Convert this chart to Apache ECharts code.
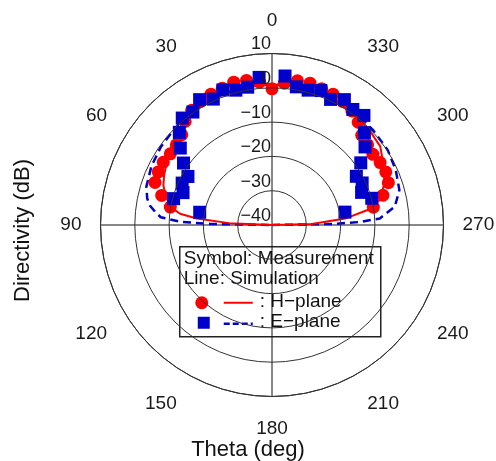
<!DOCTYPE html>
<html>
<head>
<meta charset="utf-8">
<script src="https://cdn.jsdelivr.net/npm/echarts@6/dist/echarts.min.js"></script>
<style>
html,body{margin:0;padding:0;background:#fff;}
#chart{width:496px;height:461px;}
</style>
</head>
<body>
<div id="chart"></div>
<script>
// ---- data (theta in degrees, directivity in dB) ----
const hMeasTheta = [280,285,290,295,300,305,310,315,320,325,330,335,340,345,350,355,0,5,10,15,20,25,30,35,40,45,50,55,60,65,70,75,80];
const hMeasDb    = [-10.0,-6.5,-3.9,-3.4,-3.6,-4.1,-3.6,-3.0,-0.9,0.6,1.5,2.1,2.3,2.8,2.7,1.5,-0.3,1.8,2.8,3.1,2.4,2.1,1.6,0.8,-0.6,-2.8,-3.6,-3.8,-3.4,-3.4,-3.7,-6.7,-9.9];

const eMeasTheta = [280,285,290,295,300,305,310,315,320,325,330,335,340,345,350,355,5,10,15,20,25,30,35,40,45,50,55,60,65,70,75,80];
const eMeasDb    = [-18.4,-9.9,-12.2,-11.0,-11.6,-8.4,-4.6,-1.9,1.7,1.1,2.2,0.4,1.7,0.7,0.9,3.6,3.2,0.8,0.7,1.9,0.5,2.2,0.2,0.7,-1.8,-5.1,-8.5,-11.7,-11.1,-12.4,-10.3,-18.6];

const hSimTheta = [270,271.4,275,279,283,291,299,306,314,320,330,340,350,0,10,20,30,40,45,50,55,60,65,70,75,80,83,85,87.5,90];
const hSimDb    = [-40,-28.4,-18.6,-11.6,-7.7,-4.8,-2.9,-1.0,-0.4,-0.2,0.5,0.8,1.0,1.0,1.0,0.8,0.5,-0.3,-1.3,-2.3,-3.4,-4.5,-5.3,-6.3,-8.0,-10.0,-13.0,-18.0,-27.5,-40];

const eSimTheta = [270,271,272,273.5,278.5,285.3,294,303,313,320,330,340,350,0,10,20,30,40,46,55,64,73,78,81,84,86,88,89,90];
const eSimDb    = [-40,-22,-14,-8.5,-3.8,-1.5,-0.5,0.2,0.4,0.5,0.6,0.8,1.0,1.0,1.0,0.8,0.6,0.2,-0.1,-0.4,-0.9,-1.7,-2.8,-4.0,-6.0,-7.5,-13.2,-22,-40];

const radiusMin = -40, radiusMax = 10, radiusStep = 10;
const angleStep = 30;

const legendHeader = ['Symbol: Measurement', 'Line: Simulation'];
const legendItems = [': H\u2212plane', ': E\u2212plane'];
const xTitle = 'Theta (deg)';
const yTitle = 'Directivity (dB)';

function pairs(theta, db){ return theta.map((t,i)=>[db[i], t]); }

const FONT = '"Liberation Sans", Arial, sans-serif';
const chart = echarts.init(document.getElementById('chart'), null, {renderer:'canvas'});

const option = {
  backgroundColor:'#fff',
  animation:false,
  polar:{ center:[272,225], radius:171.5 },
  angleAxis:{
    type:'value', min:0, max:360, interval:angleStep, startAngle:90, clockwise:false,
    axisLine:{show:true, lineStyle:{color:'#222', width:1}},
    axisTick:{show:false},
    axisLabel:{show:true, margin:19, fontSize:19, lineHeight:27, color:'#1a1a1a', fontFamily:FONT,
      formatter:v => v===360 ? '' : String(v)},
    splitLine:{show:true, lineStyle:{color:['#111','rgba(0,0,0,0)','rgba(0,0,0,0)'], width:1}}
  },
  radiusAxis:{
    type:'value', min:radiusMin, max:radiusMax, interval:radiusStep,
    axisLine:{show:false}, axisTick:{show:false},
    axisLabel:{show:true, fontSize:18, color:'#1a1a1a', fontFamily:FONT, margin:1,
      align:'right', verticalAlign:'bottom', rotate:0,
      formatter:v => String(v).replace('-','\u2212')},
    splitLine:{show:true, lineStyle:{color:'#333', width:1}},
    z:10
  },
  series:[
    {type:'line', coordinateSystem:'polar', data:pairs(eSimTheta,eSimDb), showSymbol:false, symbol:'none',
      lineStyle:{color:'#0000cc', width:2.5, type:[8,5]}, z:2},
    {type:'line', coordinateSystem:'polar', data:pairs(hSimTheta,hSimDb), showSymbol:false, symbol:'none',
      lineStyle:{color:'#ff0000', width:2}, z:3},
    {type:'scatter', coordinateSystem:'polar', data:pairs(hMeasTheta,hMeasDb), symbol:'circle', symbolSize:13,
      itemStyle:{color:'#ff0000', opacity:1}, z:4},
    {type:'scatter', coordinateSystem:'polar', data:pairs(eMeasTheta,eMeasDb), symbol:'rect', symbolSize:13,
      itemStyle:{color:'#0000cc', opacity:1}, z:5}
  ],
  graphic:[
    {type:'text', left:12, top:'center', rotation:Math.PI/2,
      style:{text:yTitle, fontSize:22, fontFamily:FONT, fill:'#111'}},
    {type:'text', left:'center', top:439,
      style:{text:xTitle, fontSize:22, fontFamily:FONT, fill:'#111'}},
    {type:'group', left:179, top:246, z:100, children:[
      {type:'rect', shape:{x:0,y:0,width:201,height:90}, style:{fill:'#fff', stroke:'#222', lineWidth:1.5}},
      {type:'text', x:4, y:3, style:{text:legendHeader[0], fontSize:19, fontFamily:FONT, fill:'#111'}},
      {type:'text', x:4, y:23, style:{text:legendHeader[1], fontSize:19, fontFamily:FONT, fill:'#111'}},
      {type:'circle', shape:{cx:22, cy:56, r:6.5}, style:{fill:'#ff0000'}},
      {type:'line', shape:{x1:44,y1:56,x2:73,y2:56}, style:{stroke:'#ff0000', lineWidth:2}},
      {type:'text', x:80, y:46, style:{text:legendItems[0], fontSize:19, fontFamily:FONT, fill:'#111'}},
      {type:'rect', shape:{x:18, y:70, width:12, height:12}, style:{fill:'#0000cc'}},
      {type:'line', shape:{x1:44,y1:77,x2:73,y2:77}, style:{stroke:'#0000cc', lineWidth:2.5, lineDash:[6,3]}},
      {type:'text', x:80, y:66, style:{text:legendItems[1], fontSize:19, fontFamily:FONT, fill:'#111'}}
    ]}
  ]
};
chart.setOption(option);
</script>
</body>
</html>
